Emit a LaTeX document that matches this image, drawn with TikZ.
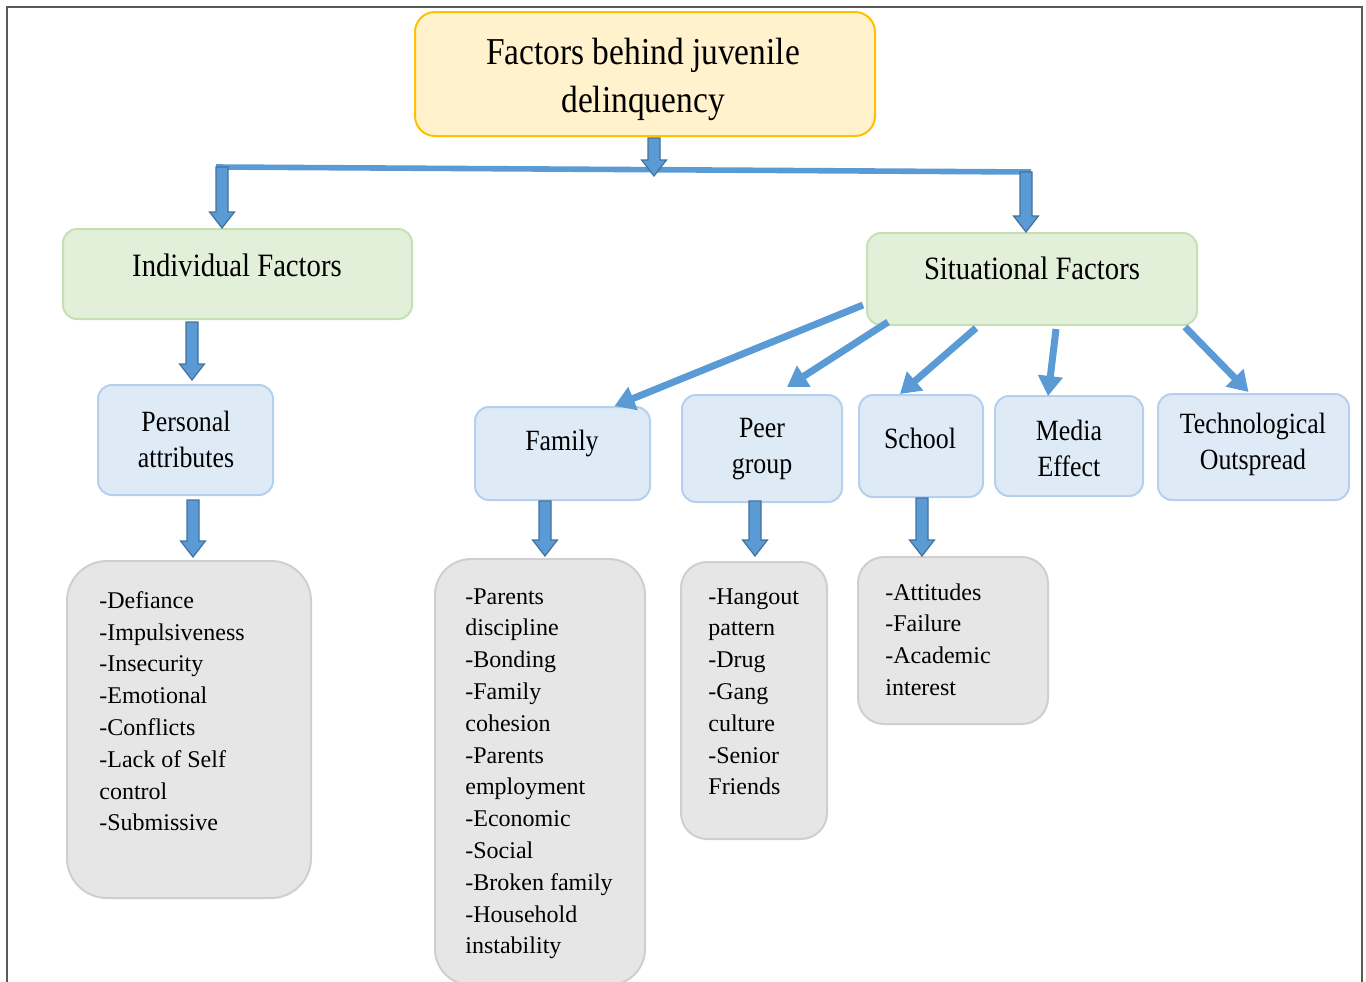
\documentclass[tikz,border=0pt]{standalone}
\usepackage{fontspec}
\setmainfont{Liberation Serif}
\newfontfamily\headfont[FakeStretch=0.88]{Liberation Serif}
\usetikzlibrary{arrows.meta,calc}
\definecolor{arrowblue}{HTML}{5B9BD5}
\definecolor{arrowedge}{HTML}{41719C}
\definecolor{titlefill}{HTML}{FFF2CC}
\definecolor{titleedge}{HTML}{FFC000}
\definecolor{greenfill}{HTML}{E2F0D9}
\definecolor{greenedge}{HTML}{C5E0B4}
\definecolor{bluefill}{HTML}{DEEBF7}
\definecolor{blueedge}{HTML}{B4D0EC}
\definecolor{greyfill}{HTML}{E7E6E6}
\definecolor{greyedge}{HTML}{D0CECE}
\definecolor{framecol}{HTML}{5A5A5A}

\begin{document}
\begin{tikzpicture}[x=0.5pt,y=-0.5pt,
  box/.style={draw,line width=1pt,inner sep=0pt,rectangle},
  titlebox/.style={box,fill=titlefill,draw=titleedge,rounded corners=10pt},
  groupbox/.style={box,fill=greenfill,draw=greenedge,rounded corners=7pt},
  factorbox/.style={box,fill=bluefill,draw=blueedge,rounded corners=7pt},
  listbox/.style={box,fill=greyfill,draw=greyedge,rounded corners=#1},
  titletext/.style={inner sep=0pt,align=center,font=\headfont\fontsize{19}{24}\selectfont},
  grouptext/.style={inner sep=0pt,align=center,font=\headfont\fontsize{16.3}{18}\selectfont},
  factortext/.style={inner sep=0pt,align=center,font=\headfont\fontsize{14.7}{18}\selectfont},
  listtext/.style={inner sep=0pt,align=left,anchor=north west,font=\fontsize{12}{15.9}\selectfont},
  hubline/.style={draw=arrowblue,line width=2.8pt},
  blockarrow/.style={fill=arrowblue,draw=arrowedge,line width=0.6pt,line join=miter,
    to path={let \p1=(\tikztostart),\p2=(\tikztotarget) in
      (\x1-3pt,\y1) -- (\x1-3pt,\y2+8pt) -- (\x1-6.2pt,\y2+8pt) -- (\x1,\y2)
      -- (\x1+6.2pt,\y2+8pt) -- (\x1+3pt,\y2+8pt) -- (\x1+3pt,\y1) -- cycle}},
  linkarrow/.style={draw=arrowblue,line width=3.5pt,-{Triangle[width=12pt,length=10pt]}}
]
\useasboundingbox (0,0) rectangle (1366,981);
\clip (0,0) rectangle (1366,981);

% outer frame
\draw[framecol,line width=1pt] (7,990) -- (7,7) -- (1362,7) -- (1362,990);

% boxes
\node[titlebox,minimum width=230pt,minimum height=62pt] (title) at (645,74) {};
\node[groupbox,minimum width=174.5pt,minimum height=45pt] (ind) at (237.5,274) {};
\node[groupbox,minimum width=165pt,minimum height=46pt] (sit) at (1032,279) {};
\node[factorbox,minimum width=87.5pt,minimum height=55pt] (pers) at (185.5,440) {};
\node[factorbox,minimum width=87.5pt,minimum height=46.5pt] (fam) at (562.5,453.5) {};
\node[factorbox,minimum width=80pt,minimum height=53.5pt] (peer) at (762,448.5) {};
\node[factorbox,minimum width=62pt,minimum height=51pt] (school) at (921,446) {};
\node[factorbox,minimum width=74pt,minimum height=50pt] (media) at (1069,446) {};
\node[factorbox,minimum width=95.5pt,minimum height=53pt] (tech) at (1253.5,447) {};
\node[listbox=20pt,minimum width=122pt,minimum height=168.5pt] (g1) at (189,729.5) {};
\node[listbox=18pt,minimum width=105pt,minimum height=213pt] (g2) at (540,772) {};
\node[listbox=13pt,minimum width=73pt,minimum height=138.5pt] (g3) at (754,700.5) {};
\node[listbox=13pt,minimum width=95pt,minimum height=83.5pt] (g4) at (953,640.5) {};

% box texts
\node[titletext] (titlet) at (643,79) {Factors behind juvenile\\delinquency};
\node[grouptext] (indt) at (237,265) {Individual Factors};
\node[grouptext] (sitt) at (1032,268) {Situational Factors};
\node[factortext] (perst) at (186,439) {Personal\\attributes};
\node[factortext] (famt) at (562,443) {Family};
\node[factortext] (peert) at (762,449) {Peer\\group};
\node[factortext] (schoolt) at (920,438) {School};
\node[factortext] (mediat) at (1069,448) {Media\\Effect};
\node[factortext] (techt) at (1253,444) {Technological\\Outspread};

\node[listtext] (g1t) at (99,591) {-Defiance\\-Impulsiveness\\-Insecurity\\-Emotional\\-Conflicts\\-Lack of Self\\control\\-Submissive};
\node[listtext] (g2t) at (465,588) {-Parents\\discipline\\-Bonding\\-Family\\cohesion\\-Parents\\employment\\-Economic\\-Social\\-Broken family\\-Household\\instability};
\node[listtext] (g3t) at (708,588) {-Hangout\\pattern\\-Drug\\-Gang\\culture\\-Senior\\Friends};
\node[listtext] (g4t) at (885,583) {-Attitudes\\-Failure\\-Academic\\interest};

% branching line under the title
\coordinate (hubL) at (216,167);
\coordinate (hubR) at (1031,172);
\coordinate (hubM) at (654,176);
\draw[hubline] (hubL) -- (hubR);
\draw[blockarrow] ($(title.south)+(9,1)$) to (hubM);
\draw[blockarrow] ($(hubL)+(6,0)$) to (ind.north);
\draw[blockarrow] ($(hubR)+(-5,0)$) to (sit.north);

% vertical block arrows
\draw[blockarrow] ($(ind.south)+(-45.5,2)$) to ($(pers.north)+(0,-4)$);
\draw[blockarrow] ($(pers.south)+(7.5,4)$) to ($(g1.north)+(4,-3)$);
\draw[blockarrow] ($(fam.south)+(-17.5,0)$) to ($(g2.north)+(5,-2)$);
\draw[blockarrow] ($(peer.south)+(-7,-2)$) to ($(g3.north)+(1,-5)$);
\draw[blockarrow] ($(school.south)+(1,0)$) to (g4.north);

% links from the situational factors
\draw[linkarrow] ($(sit.west)+(-3,26)$) -- ($(fam.north)+(52,0)$);
\draw[linkarrow] ($(sit.south west)+(22,-4)$) -- ($(peer.north)+(25,-7)$);
\draw[linkarrow] ($(sit.south)+(-56,2)$) -- ($(school.north)+(-21,0)$);
\draw[linkarrow] ($(sit.south)+(24,3)$) -- ($(media.north)+(-21,1)$);
\draw[linkarrow] ($(sit.south east)+(-13,1)$) -- ($(tech.north)+(-5,-1)$);
\end{tikzpicture}
\end{document}
